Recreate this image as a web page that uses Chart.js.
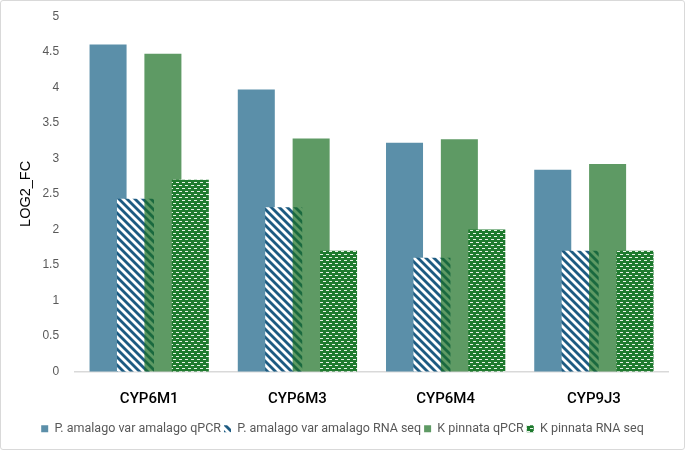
<!DOCTYPE html>
<html lang="en">
<head>
    <meta charset="UTF-8">
    <title>LOG2_FC of CYP genes</title>
    <script src="https://cdn.jsdelivr.net/npm/chart.js@4.4.0/dist/chart.umd.min.js"></script>
    <style>
        html, body {
            margin: 0;
            padding: 0;
            background: #ffffff;
        }
        #wrap {
            position: relative;
            width: 683px;
            height: 448px;
            border: 1px solid #d9d9d9;
            border-radius: 3px;
        }
    </style>
</head>
<body>
    <div id="wrap">
        <canvas id="fcChart"></canvas>
    </div>

    <script>
        // Data
        const genes = ['CYP6M1', 'CYP6M3', 'CYP6M4', 'CYP9J3'];
        const amalagoQpcr = [4.6, 3.97, 3.22, 2.84];
        const amalagoRnaSeq = [2.43, 2.31, 1.6, 1.7];
        const pinnataQpcr = [4.47, 3.28, 3.27, 2.92];
        const pinnataRnaSeq = [2.7, 1.7, 2.0, 1.7];
        const seriesNames = [
            'P. amalago var amalago qPCR',
            'P. amalago var amalago RNA seq',
            'K pinnata qPCR',
            'K pinnata RNA seq'
        ];

        // Diagonal stripes (white ground, dark blue lines)
        const makeStripes = () => {
            const c = document.createElement('canvas');
            c.width = 8;
            c.height = 8;
            const g = c.getContext('2d');
            g.fillStyle = '#ffffff';
            g.fillRect(0, 0, 8, 8);
            g.strokeStyle = '#1d5b82';
            g.lineWidth = 2.8;
            [-8, 0, 8].forEach(k => {
                g.beginPath();
                g.moveTo(-2, -2 + k);
                g.lineTo(10, 10 + k);
                g.stroke();
            });
            return g.createPattern(c, 'repeat');
        };

        // Small white dashes on dark green
        const makeDashes = () => {
            const c = document.createElement('canvas');
            c.width = 6;
            c.height = 6;
            const g = c.getContext('2d');
            g.fillStyle = '#1e7a2e';
            g.fillRect(0, 0, 6, 6);
            g.fillStyle = '#e8f2e8';
            g.fillRect(1, 1, 3, 1);
            g.fillRect(4, 4, 2, 1);
            g.fillRect(0, 4, 1, 1);
            return g.createPattern(c, 'repeat');
        };

        // Draw datasets in index order so later series sit on top of earlier ones
        const drawInOrder = {
            id: 'drawInOrder',
            beforeDatasetsDraw(chart) {
                chart.getSortedVisibleDatasetMetas().forEach(meta => meta.controller.draw());
                return false;
            }
        };

        Chart.defaults.font.family = "'Liberation Sans', Arial, sans-serif";

        const ctx = document.getElementById('fcChart').getContext('2d');
        const fcChart = new Chart(ctx, {
            type: 'bar',
            data: {
                labels: genes,
                datasets: [
                    {
                        label: seriesNames[0],
                        data: amalagoQpcr,
                        backgroundColor: '#5b8fa9'
                    },
                    {
                        label: seriesNames[1],
                        data: amalagoRnaSeq,
                        backgroundColor: makeStripes()
                    },
                    {
                        label: seriesNames[2],
                        data: pinnataQpcr,
                        backgroundColor: 'rgba(25, 111, 34, 0.7)'
                    },
                    {
                        label: seriesNames[3],
                        data: pinnataRnaSeq,
                        backgroundColor: makeDashes()
                    }
                ]
            },
            options: {
                responsive: true,
                maintainAspectRatio: false,
                animation: false,
                categoryPercentage: 0.74,
                barPercentage: 1.35,
                layout: {
                    padding: { top: 10, right: 16, bottom: 4, left: 16 }
                },
                plugins: {
                    legend: {
                        position: 'bottom',
                        labels: {
                            boxWidth: 7,
                            boxHeight: 7,
                            padding: 3,
                            color: '#595959',
                            font: { family: 'Roboto', size: 12.5 }
                        }
                    },
                    tooltip: { enabled: false }
                },
                scales: {
                    x: {
                        grid: { display: false },
                        border: { color: '#d9d9d9', width: 1.5 },
                        ticks: {
                            color: '#000000',
                            padding: 11,
                            font: { family: 'Roboto', size: 15, weight: '500' }
                        }
                    },
                    y: {
                        min: 0,
                        max: 5,
                        grid: { display: false },
                        border: { display: false },
                        ticks: {
                            stepSize: 0.5,
                            padding: 8,
                            color: '#595959',
                            font: { size: 12 },
                            callback: value => String(value)
                        },
                        title: {
                            display: true,
                            text: 'LOG2_FC',
                            color: '#000000',
                            padding: { top: 0, bottom: 0 },
                            font: { size: 14.5 }
                        }
                    }
                }
            },
            plugins: [drawInOrder]
        });
    </script>
</body>
</html>
